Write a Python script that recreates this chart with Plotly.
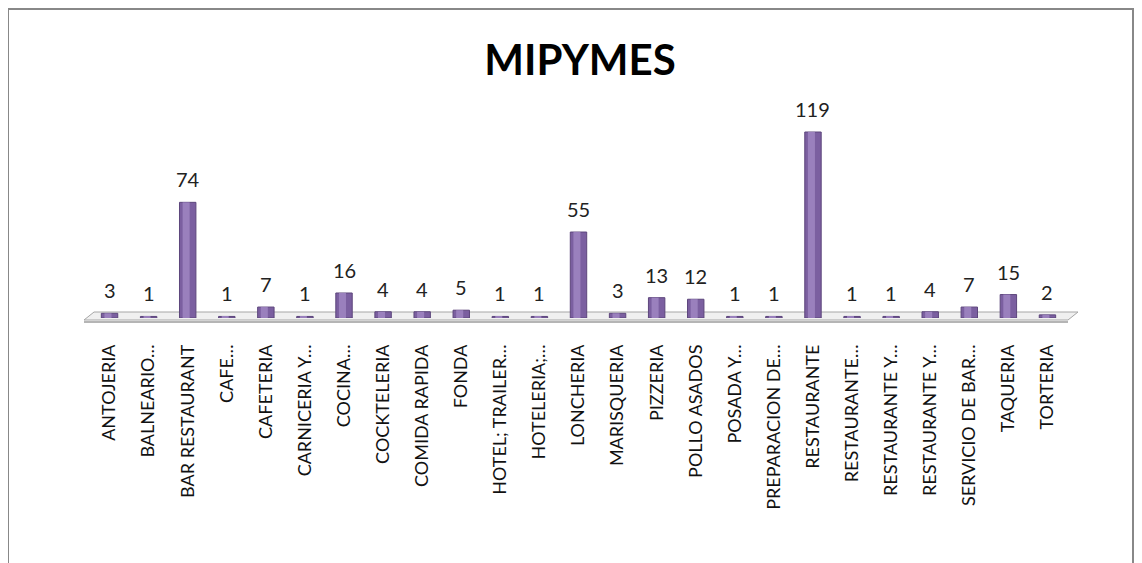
import plotly.graph_objects as go

categories = ["ANTOJERIA", "BALNEARIO…", "BAR RESTAURANT", "CAFE…", "CAFETERIA",
              "CARNICERIA Y…", "COCINA…", "COCKTELERIA", "COMIDA RAPIDA", "FONDA",
              "HOTEL; TRAILER…", "HOTELERIA;…", "LONCHERIA", "MARISQUERIA", "PIZZERIA",
              "POLLO ASADOS", "POSADA Y…", "PREPARACION DE…", "RESTAURANTE", "RESTAURANTE…",
              "RESTAURANTE Y…", "RESTAURANTE Y…", "SERVICIO DE BAR…", "TAQUERIA", "TORTERIA"]
values = [3, 1, 74, 1, 7, 1, 16, 4, 4, 5, 1, 1, 55, 3, 13, 12, 1, 1, 119, 1, 1, 4, 7, 15, 2]
positions = list(range(len(categories)))

# page renders with 8px body offset; targets expressed in screenshot pixels
OFF = 8
L, T, B = 90 - OFF, 100 - OFF, 318 - OFF
R = 1142 - (1067 - OFF)
W = 1142 - L - R
H = B - T

def px(x):
    return (x - OFF - L) / W

def py(y):
    return (B - (y - OFF)) / H

fig = go.Figure()
fig.add_trace(go.Bar(
    x=positions, y=values, width=0.42,
    marker=dict(color="#7b5fa0", line=dict(color="#5d467c", width=1)),
    hoverinfo="x+y", showlegend=False,
))
fig.add_trace(go.Bar(
    x=positions, y=values, width=0.18, offset=-0.13,
    marker=dict(color="#9a80bd", line=dict(width=0)),
    hoverinfo="skip", showlegend=False,
))

annotations = [
    dict(x=xv, y=v, xref="x", yref="y", text=str(v), showarrow=False,
         yanchor="bottom", xanchor="center", yshift=9,
         font=dict(family="Lato", size=20, color="#222222"))
    for xv, v in zip(positions, values)
]

shapes = [
    # outer frame
    dict(type="rect", xref="paper", yref="paper", x0=px(8), x1=px(1133), y0=py(580), y1=py(9),
         line=dict(color="#888888", width=2), fillcolor="rgba(0,0,0,0)", layer="below"),
    # 3D floor
    dict(type="path", xref="paper", yref="paper",
         path=f"M {px(84)} {py(320)} L {px(1068)} {py(320)} L {px(1078)} {py(312)} L {px(94)} {py(312)} Z",
         fillcolor="#f0f0f0", line=dict(color="#a6a6a6", width=1), layer="below"),
    dict(type="line", xref="paper", yref="paper", x0=px(84), x1=px(1068), y0=py(322), y1=py(322),
         line=dict(color="#b5b5b5", width=2), layer="below"),
]

fig.update_layout(
    width=1142, height=563,
    margin=dict(l=L, r=R, t=T, b=563 - B, pad=0),
    paper_bgcolor="white", plot_bgcolor="rgba(0,0,0,0)",
    barmode="overlay",
    title=dict(text="<b>MIPYMES</b>", x=(580 - OFF) / 1142, xanchor="center",
               y=(563 - (60 - OFF)) / 563, yanchor="middle", yref="container",
               font=dict(family="Lato", size=42, color="#000000")),
    xaxis=dict(tickmode="array", tickvals=positions, ticktext=categories,
               range=[-0.5, len(categories) - 0.5], tickangle=-90,
               showgrid=False, zeroline=False, showline=False, ticks="",
               ticklabelstandoff=22,
               tickfont=dict(family="Lato", size=18, color="#111111")),
    yaxis=dict(range=[0, H / 1.563], visible=False, showgrid=False, zeroline=False),
    shapes=shapes,
    annotations=annotations,
    font=dict(family="Lato"),
)

fig.write_html("out.html")
